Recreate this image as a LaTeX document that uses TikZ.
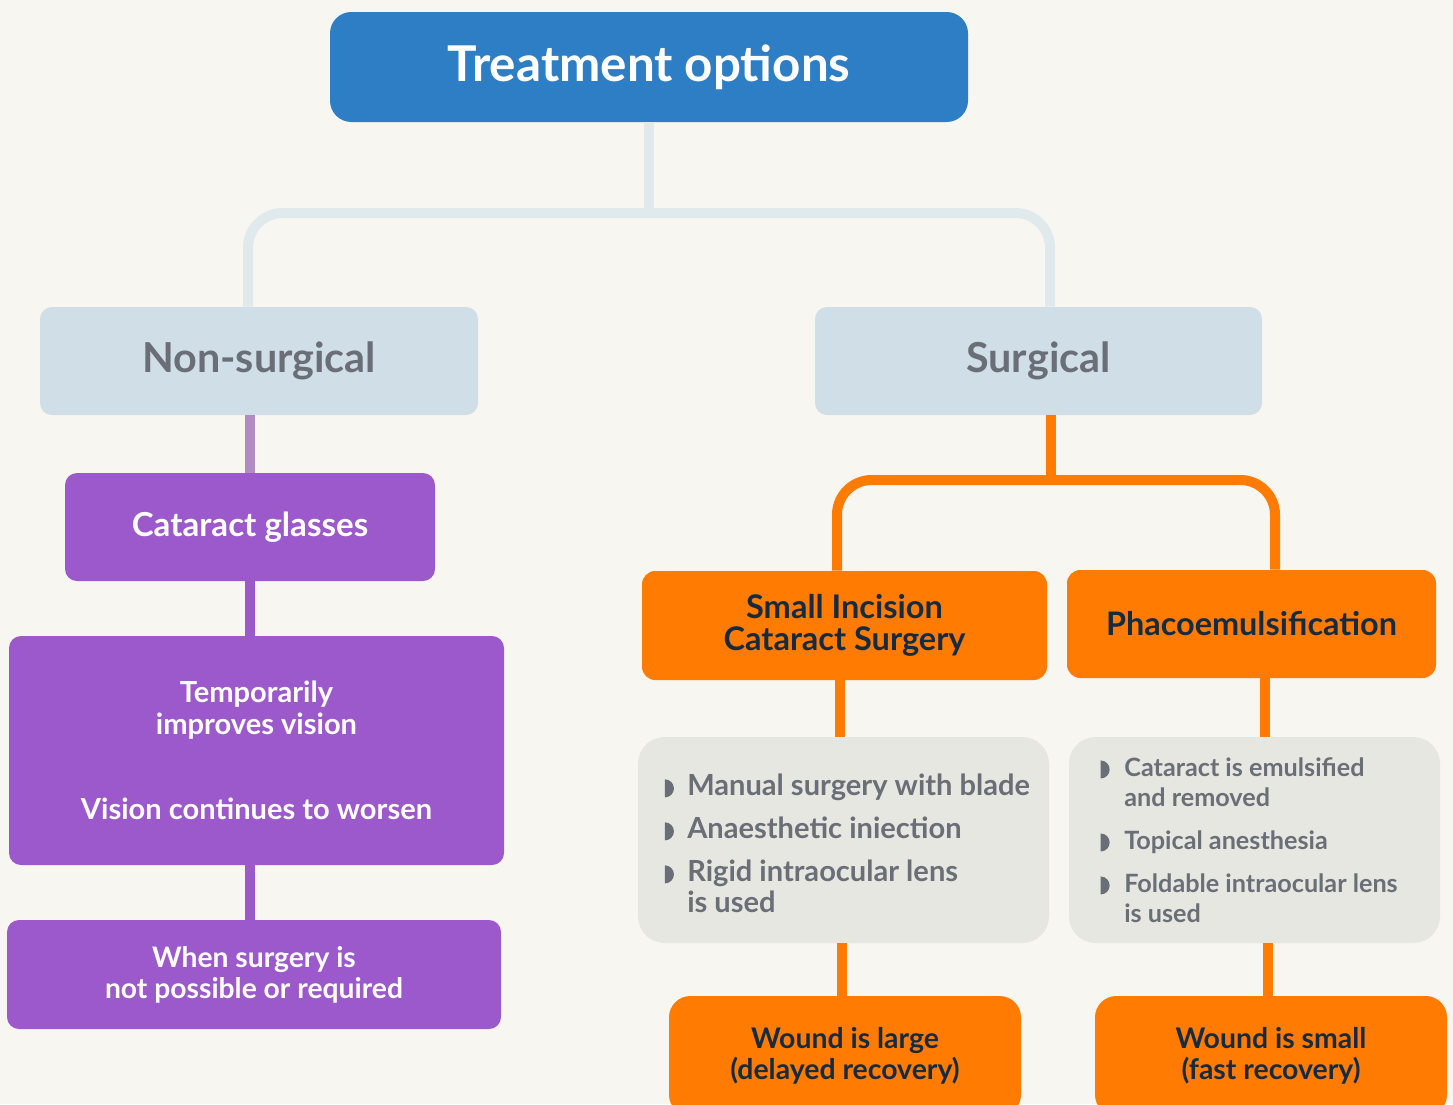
\documentclass[tikz,border=0pt]{standalone}
\usepackage{fontspec}
\setmainfont{Lato}
\usetikzlibrary{calc}
\definecolor{bgc}{HTML}{F7F6F1}
\definecolor{topblue}{HTML}{2E7EC6}
\definecolor{paleblue}{HTML}{D0DEE8}
\definecolor{graytext}{HTML}{6A6F77}
\definecolor{paleconn}{HTML}{E0E9EC}
\definecolor{purp}{HTML}{9B59CC}
\definecolor{purpconn}{HTML}{B08BC4}
\definecolor{orng}{HTML}{FF7B02}
\definecolor{navy}{HTML}{172B3F}
\definecolor{greybox}{HTML}{E7E7E2}
\newcommand\bulmark[1]{\tikz[x=1pt,y=1pt,baseline=0pt,sharp corners]\fill[graytext,sharp corners] (0,#1-6.75) -- (0,#1+6.75) arc[start angle=90,end angle=-90,radius=6.75pt] -- cycle;}
\begin{document}
\begin{tikzpicture}[x=0.75pt,y=-0.75pt,
  boxbase/.style={draw=none, align=center, inner sep=0pt, font=\bfseries},
  titlebox/.style={boxbase, fill=topblue, text=white, rounded corners=16pt},
  levelbox/.style={boxbase, fill=paleblue, text=graytext, rounded corners=9pt},
  purpbox/.style={boxbase, fill=purp, text=white, rounded corners=9pt},
  orngbox/.style={boxbase, fill=orng, text=navy, rounded corners=10pt},
  woundbox/.style={boxbase, fill=orng, text=navy, rounded corners=16pt},
  listbox/.style={draw=none, fill=greybox, text=graytext, rounded corners=20pt, inner sep=0pt, align=left, font=\bfseries},
  paleline/.style={draw=paleconn, line width=7.5pt},
  purpline/.style={draw=purp, line width=7.5pt},
  purplight/.style={draw=purpconn, line width=7.5pt},
  orngline/.style={draw=orng, line width=7.5pt}
]
\fill[bgc] (0,0) rectangle (1453,1104);
\useasboundingbox (0,0) rectangle (1453,1104);

% top
\node[titlebox, minimum width=478.5pt, minimum height=82.5pt, font=\bfseries\fontsize{37}{40}\selectfont] (title) at (649,67) {Treatment options};
\node[levelbox, minimum width=328.5pt, minimum height=81pt, font=\bfseries\fontsize{31}{34}\selectfont] (nonsurg) at (259,361) {Non-surgical};
\node[levelbox, minimum width=335.25pt, minimum height=81pt, font=\bfseries\fontsize{31}{34}\selectfont] (surg) at (1038.5,361) {Surgical};

% non-surgical branch
\node[purpbox, minimum width=277.5pt, minimum height=81pt, font=\bfseries\fontsize{24.8}{27}\selectfont] (glasses) at (250,527) {Cataract glasses};
\node[purpbox, minimum width=371.25pt, minimum height=171.75pt, font=\bfseries\fontsize{21.8}{24}\selectfont] (temp) at (256.5,750.5) {Temporarily\\improves vision\\[40pt]Vision continues to worsen};
\node[purpbox, minimum width=370.5pt, minimum height=81.75pt, font=\bfseries\fontsize{21.2}{23.25}\selectfont] (when) at (254,974.5) {When surgery is\\not possible or required};

% surgical branch
\node[orngbox, minimum width=303.75pt, minimum height=81.75pt, font=\bfseries\fontsize{24.4}{24}\selectfont] (sics) at (844.5,625.5) {Small Incision\\Cataract Surgery};
\node[orngbox, minimum width=276.75pt, minimum height=81pt, font=\bfseries\fontsize{24.3}{26}\selectfont] (phaco) at (1251.5,624) {Phacoemulsification};

\node[listbox, minimum width=308.25pt, minimum height=154.5pt] (greyL) at (843.5,840) {%
  \hspace*{6pt}\raisebox{-6pt}[\height][\depth]{\fontsize{21.8}{23.25}\selectfont
  \begin{tabular}{@{}l@{\hspace{10pt}}l@{}}
  \bulmark{5.5} & Manual surgery with blade\\[9pt]
  \bulmark{5.5} & Anaesthetic iniection\\[9pt]
  \bulmark{5.5} & Rigid intraocular lens\\
           & is used
  \end{tabular}}};
\node[listbox, minimum width=278.25pt, minimum height=154.5pt] (greyR) at (1254.5,840) {%
  \raisebox{-2.25pt}[\height][\depth]{\fontsize{18.9}{22.5}\selectfont
  \begin{tabular}{@{}l@{\hspace{11pt}}l@{}}
  \bulmark{4.9} & Cataract is emulsified\\
           & and removed\\[9.75pt]
  \bulmark{4.9} & Topical anesthesia\\[9.75pt]
  \bulmark{4.9} & Foldable intraocular lens\\
           & is used
  \end{tabular}}\hspace*{8pt}};

\node[woundbox, minimum width=264pt, minimum height=90pt, font=\bfseries\fontsize{21.3}{23.25}\selectfont] (woundL) at (845,1056) {Wound is large\\(delayed recovery)};
\node[woundbox, minimum width=264pt, minimum height=90pt, font=\bfseries\fontsize{21.3}{23.25}\selectfont] (woundR) at (1271,1056) {Wound is small\\(fast recovery)};

% connectors: top tree
\coordinate (tL) at (248,213);
\coordinate (tR) at (1050,213);
\draw[paleline] (title.south) -- (title.south |- tL);
\draw[paleline, rounded corners=26pt] (nonsurg.north -| tL) -- (tL) -- (tR) -- (surg.north -| tR);

% connectors: purple
\draw[purplight] (glasses.north) -- (glasses.north |- nonsurg.south);
\draw[purpline] (glasses.south) -- (glasses.south |- temp.north);
\draw[purpline] (when.north -| glasses.south) -- (temp.south -| glasses.south);

% connectors: orange
\coordinate (oM) at (1051,480);
\coordinate (oL) at (837,480);
\coordinate (oR) at (1275,480);
\draw[orngline] (surg.south -| oM) -- (oM);
\draw[orngline, rounded corners=26pt] (sics.north -| oL) -- (oL) -- (oR) -- (phaco.north -| oR);
\coordinate (dL) at (840,0);
\coordinate (dR) at (1265,0);
\draw[orngline] (sics.south -| dL) -- (greyL.north -| dL);
\draw[orngline] (phaco.south -| dR) -- (greyR.north -| dR);
\coordinate (eL) at (842,0);
\coordinate (eR) at (1268,0);
\draw[orngline] (greyL.south -| eL) -- (woundL.north -| eL);
\draw[orngline] (greyR.south -| eR) -- (woundR.north -| eR);
\end{tikzpicture}
\end{document}
